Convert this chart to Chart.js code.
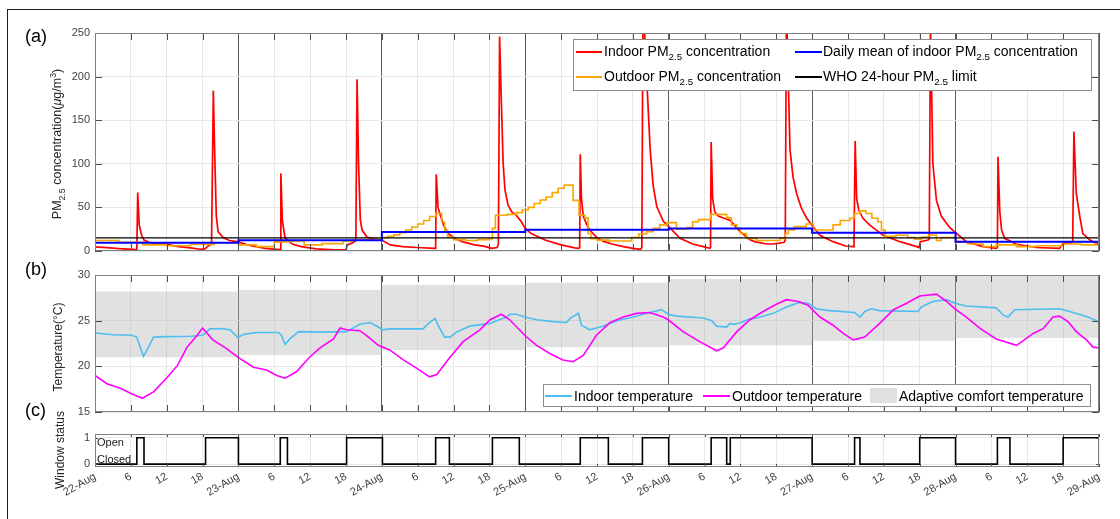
<!DOCTYPE html>
<html>
<head>
<meta charset="utf-8">
<script src="https://cdn.jsdelivr.net/npm/chart.js@4.4.1/dist/chart.umd.min.js"></script>
<style>
  html, body { margin: 0; padding: 0; background: #fff; }
  body {
    width: 1120px; height: 519px; position: relative; overflow: hidden;
    font-family: 'Liberation Sans', Arial, sans-serif; color: #000;
  }
  canvas { position: absolute; left: 0; top: 0; }
  .frame {
    position: absolute; left: 7px; top: 9px; width: 1200px; height: 600px;
    border-left: 1.5px solid #1a1a1a; border-top: 1.5px solid #1a1a1a;
  }
  .tag { position: absolute; font-size: 18px; line-height: 18px; }
  .ytitle {
    position: absolute; white-space: nowrap; color: #262626; line-height: 14px;
    transform: translate(-50%, -50%) rotate(-90deg);
  }
  .legend {
    position: absolute; background: #fff; border: 1px solid #8c8c8c;
    font-size: 14px; line-height: 16px; color: #000;
  }
  .item { position: absolute; white-space: nowrap; }
  .swatch { position: absolute; height: 0; border-top: 2px solid; }
  .box { position: absolute; background: #e0e0e0; }
  .state { position: absolute; font-size: 11px; line-height: 13px; color: #1a1a1a; }
  sub { font-size: 70%; vertical-align: -0.45em; line-height: 0; }
  sup { font-size: 70%; vertical-align: 0.55em; line-height: 0; }
</style>
</head>
<body>
<canvas id="pm" width="1120" height="519"></canvas>
<canvas id="temp" width="1120" height="519"></canvas>
<canvas id="win" width="1120" height="519"></canvas>

<div class="frame"></div>

<div class="tag" style="left:25px;top:27px">(a)</div>
<div class="tag" style="left:25px;top:260px">(b)</div>
<div class="tag" style="left:25px;top:401px">(c)</div>

<div class="ytitle" style="left:57px;top:144px;font-size:12.5px">PM<sub>2.5</sub> concentration(<i>μ</i>g/m<sup>3</sup>)</div>
<div class="ytitle" style="left:58px;top:347px;font-size:12px">Temperature(°C)</div>
<div class="ytitle" style="left:60px;top:450px;font-size:12px">Window status</div>

<div class="state" style="left:97px;top:436px">Open</div>
<div class="state" style="left:97px;top:453px">Closed</div>

<div class="legend" style="left:573px;top:39px;width:517px;height:50px">
  <span class="swatch" style="left:2px;top:11px;width:26px;border-color:#ff0000"></span>
  <div class="item" style="left:30px;top:3px">Indoor PM<sub>2.5</sub> concentration</div>
  <span class="swatch" style="left:2px;top:36px;width:26px;border-color:#f9a602"></span>
  <div class="item" style="left:30px;top:28px">Outdoor PM<sub>2.5</sub> concentration</div>
  <span class="swatch" style="left:221px;top:11px;width:27px;border-color:#0000ff"></span>
  <div class="item" style="left:249px;top:3px">Daily mean of indoor PM<sub>2.5</sub> concentration</div>
  <span class="swatch" style="left:221px;top:36px;width:27px;border-color:#000"></span>
  <div class="item" style="left:249px;top:28px">WHO 24-hour PM<sub>2.5</sub> limit</div>
</div>

<div class="legend" style="left:543px;top:384px;width:546px;height:21px">
  <span class="swatch" style="left:1px;top:10px;width:27px;border-color:#4dbeee"></span>
  <div class="item" style="left:30px;top:3px">Indoor temperature</div>
  <span class="swatch" style="left:159px;top:10px;width:27px;border-color:#ff00ff"></span>
  <div class="item" style="left:188px;top:3px">Outdoor temperature</div>
  <span class="box" style="left:326px;top:3px;width:27px;height:15px"></span>
  <div class="item" style="left:355px;top:3px">Adaptive comfort temperature</div>
</div>

<script>
Chart.defaults.font.family = "'Liberation Sans', Arial, sans-serif";
Chart.defaults.color = '#404040';

// x axis: hours since 22-Aug 00:00
const dayLabels = ['22-Aug', '23-Aug', '24-Aug', '25-Aug', '26-Aug', '27-Aug', '28-Aug', '29-Aug'];
const hourLabels = ['6', '12', '18'];

// panel (a) PM2.5, [hour, value]
const indoorPm = [
    [0, 4.8], [2, 3.8], [4, 2.8], [6.8, 1.6], [7.0, 2], [7.15, 67], [7.4, 30], [7.8, 18], [8.2, 12.5],
    [9, 10], [10.5, 8.5], [12, 7.5], [14, 5], [16, 3.5], [17.6, 2], [18.4, 2.5], [18.8, 5], [19.5, 8],
    [19.8, 184], [20.0, 120], [20.3, 40], [20.6, 22], [21.5, 15], [22.5, 12], [24, 10.5],
    [25.5, 7], [28.5, 3], [30.8, 1.5], [31.0, 2], [31.1, 89], [31.35, 35], [31.8, 15], [33, 8],
    [34.5, 5], [37, 2.5], [40, 1.2], [42, 1.5], [42.2, 7], [43, 9], [43.65, 12], [43.85, 197],
    [44.1, 100], [44.4, 35], [44.7, 24], [45.5, 16], [46.5, 14], [48, 12.5],
    [49.4, 7], [51.5, 5], [53.8, 4], [56.9, 3], [57.0, 3.5], [57.1, 88], [57.4, 50], [57.7, 43],
    [58.3, 30], [59.1, 20], [60.3, 14], [61.6, 10.5], [63.5, 7], [65, 5.5], [66.4, 3], [67.3, 4],
    [67.5, 8], [67.7, 246], [68.0, 170], [68.3, 100], [68.6, 70], [69.1, 53], [69.7, 45], [70.5, 41],
    [71.3, 34], [72, 26],
    [73, 20], [75.3, 12.6], [78, 7], [80.3, 3.5], [80.9, 3], [81.1, 4], [81.2, 111], [81.4, 60],
    [81.7, 40], [82.3, 30], [82.8, 24], [84, 15], [85.1, 11], [86.5, 8], [88.4, 5], [90, 3],
    [91.3, 2], [91.5, 4], [91.7, 290], [92.3, 200], [92.9, 116], [93.4, 75], [94, 51], [95.1, 34], [96, 28],
    [97.9, 14.5], [100, 8], [101.8, 5], [102.9, 3], [103.0, 4], [103.1, 125], [103.35, 60], [103.7, 45],
    [104.3, 40], [105.5, 37], [106.3, 35], [107.2, 28], [108, 22], [109.6, 13], [110.5, 10.5],
    [112.4, 8], [113.5, 8], [114.5, 9], [115.3, 10], [115.5, 12], [115.7, 280], [116.3, 116],
    [116.8, 85], [117.4, 66], [118.2, 49], [119.1, 37.5], [119.9, 30],
    [121.3, 18], [123.5, 10.7], [125.6, 5.7], [126.9, 5], [127.0, 6], [127.2, 126], [127.45, 60],
    [127.8, 47], [128.5, 37.5], [129.6, 30], [131.9, 18], [134.7, 10.7], [137.5, 5], [137.9, 4],
    [138.1, 10.7], [139.4, 12.6], [139.6, 14], [139.8, 260], [140.2, 100], [140.8, 58], [141.6, 40],
    [143, 27], [144, 21],
    [145.8, 10.7], [148.6, 5], [150.8, 3], [151.0, 4], [151.1, 108], [151.4, 45], [151.7, 24],
    [152.2, 14.5], [154.2, 7.7], [157.5, 4], [161.4, 3], [162, 8.8], [163.4, 9.5], [163.6, 11],
    [163.8, 137], [164.2, 66], [164.8, 39], [165.3, 20], [166.5, 12.6], [168, 7],
];

// hourly outdoor readings, held until the next entry
const outdoorPm = [
    [0, 12], [4, 10], [8, 7], [12, 6], [16, 7.5], [20, 9.5], [24, 7], [27, 5], [30, 10.5],
    [32.5, 11.5], [35, 7], [38, 8.5], [41.5, 11.5], [43, 12.5], [45, 13],
    [48, 15.5], [49, 17], [50, 18.5], [51, 21], [52, 24], [53, 27.5], [54, 31], [55, 35],
    [56, 39.5], [57, 43], [58, 33], [58.5, 24], [59, 16], [60, 13], [62, 12], [64, 13],
    [66, 14], [66.5, 26], [67, 41], [69, 42], [70.5, 44], [71.5, 47],
    [72.5, 50], [73.5, 54.5], [74.5, 58.5], [75.5, 62], [76.5, 67], [77.5, 72], [78.5, 75.5],
    [80, 58], [81, 41], [82, 38], [82.5, 20], [83, 14], [84, 12.5], [86, 11.5], [89.8, 15.5],
    [91, 19.5], [92.3, 22], [93.4, 26], [94.5, 30], [95.7, 32.5],
    [97.3, 25], [99, 27], [100, 33.5], [101, 36], [103, 42], [105.7, 38], [106.5, 30],
    [107.4, 26], [108, 20], [109, 14.5], [110.7, 12], [114.6, 14.5], [115.5, 20], [116, 24],
    [117, 28], [119, 31],
    [120.2, 24], [123.5, 30], [124.7, 35], [126.3, 37.5], [127, 43], [128, 46], [129, 43],
    [130, 37.5], [131, 33.5], [131.6, 24], [132.2, 17], [134, 18], [136, 15.5], [137.2, 13.5],
    [138.3, 16], [139.5, 18], [140.8, 12], [141.6, 15.5],
    [144, 10], [146, 8], [148.6, 5], [150.8, 7], [154.2, 5], [157.5, 6], [162, 8], [165, 7],
    [167.5, 10], [168, 10],
];

const dailyMeanPm = [9.6, 12.3, 21.8, 24.5, 25.7, 20.9, 10.5];
const whoLimit = 15;

// panel (b) temperature, [hour, degC]
const indoorTemp = [
    [0, 23.65], [3, 23.45], [6.1, 23.4], [7.0, 23.2], [7.6, 22.0], [8.1, 21.1], [8.7, 21.8],
    [9.8, 23.2], [12, 23.25], [16, 23.3], [18, 23.4], [18.4, 23.6], [19.2, 24.1], [21, 24.15],
    [22.6, 24.0], [23.9, 23.15], [24.9, 23.5], [27, 23.7], [30.7, 23.7], [31.2, 23.4],
    [31.8, 22.4], [32.6, 23.0], [34.1, 23.8], [38, 23.75], [42.1, 23.8], [44.3, 24.6],
    [46, 24.8], [47.4, 24.3], [48.1, 24.0], [49.3, 24.1], [54.9, 24.1], [55.8, 24.7],
    [56.9, 25.25], [57.4, 24.5], [58.5, 23.2], [59.4, 23.2], [60.5, 23.75], [62.7, 24.4],
    [66.1, 24.7], [67.2, 25.0], [68.9, 25.4], [69.4, 25.7], [70.5, 25.7], [71.9, 25.4],
    [73.9, 25.1], [76.7, 24.9], [78.9, 24.8], [79.5, 25.25], [80.9, 25.8], [81.4, 24.5],
    [82.8, 24.0], [85, 24.4], [87.3, 25.0], [90.1, 25.4], [92.8, 25.9], [94.8, 26.2],
    [95.9, 25.7], [97.3, 25.5], [101.8, 25.3], [103.2, 25.0], [104, 24.4], [105.7, 24.3],
    [106.2, 24.7], [106.8, 24.6], [107.9, 24.75], [109.6, 25.2], [110.7, 25.3], [113.5, 25.8],
    [115.7, 26.5], [117.9, 27.0], [119.3, 26.9], [120.7, 26.3], [122.9, 26.1], [127.1, 25.9],
    [128, 25.4], [128.8, 26.0], [129.9, 26.3], [131.3, 26.1], [137.7, 26.0], [138.3, 26.5],
    [140.2, 27.1], [142.5, 27.3], [143.9, 26.9], [145.8, 26.6], [150.8, 26.4], [152, 25.6],
    [152.8, 25.4], [153.9, 26.2], [161.4, 26.3], [163.1, 26.0], [165.9, 25.45], [168, 24.9],
];

const outdoorTemp = [
    [0, 19.0], [2, 18.1], [4.2, 17.6], [6.5, 16.9], [7.9, 16.5], [9.8, 17.2], [12.1, 18.8],
    [13.8, 20.1], [15.4, 22.1], [17.1, 23.4], [18, 24.2], [19.7, 22.9], [21.9, 22.0],
    [23.9, 21.0], [26.5, 19.9], [28.7, 19.6], [30.4, 19.0], [31.8, 18.7], [33.7, 19.4],
    [35.9, 21.0], [37.6, 22.0], [39.9, 23.0], [41, 24.2], [42.1, 24.0], [44.3, 23.9],
    [45.4, 23.4], [47.4, 22.3], [49.3, 21.8], [51.6, 20.7], [53.8, 19.8], [56, 18.85],
    [57.2, 19.1], [59.4, 21.0], [61.6, 22.7], [64.4, 24.0], [66.1, 25.1], [68, 25.7],
    [69.4, 25.1], [71.9, 23.4], [73.9, 22.3], [76.1, 21.4], [78.3, 20.7], [80, 20.5],
    [81.7, 21.2], [83.9, 23.4], [86.2, 24.8], [88.4, 25.4], [90.6, 25.8], [92.8, 25.9],
    [95.1, 25.4], [95.9, 25.1], [98.4, 23.8], [101.2, 22.7], [104, 21.7], [105.1, 22.0],
    [107.4, 23.8], [109.6, 25.1], [111.8, 26.0], [114, 26.8], [115.7, 27.3], [117.7, 27.1],
    [119.3, 26.7], [121.3, 25.4], [123.5, 24.5], [125.2, 23.6], [126.9, 22.9], [128.8, 23.2],
    [131.3, 24.7], [133.6, 26.2], [135.8, 26.9], [138, 27.7], [140.8, 27.9], [142.5, 27.1],
    [143.9, 26.3], [145.8, 25.4], [148.1, 24.15], [150.8, 23.0], [154.2, 22.3], [157, 23.6],
    [158.7, 24.15], [160.3, 25.4], [161.4, 25.5], [162.8, 24.9], [164.2, 23.8], [165.9, 22.9],
    [167, 22.1], [168, 22.0],
];

// adaptive comfort band, one value per day
const comfortUpper = [28.2, 28.35, 28.9, 29.15, 29.55, 30.1, 30.3];
const comfortLower = [21.0, 21.25, 21.8, 22.1, 22.3, 22.8, 23.1];

// panel (c) window: 1 = open, 0 = closed, held until next entry
const windowState = [
    [0, 0], [7, 1], [8.2, 0], [18.5, 1], [24, 0], [31, 1], [32.2, 0], [42.1, 1], [48.1, 0],
    [57, 1], [59.3, 0], [66.5, 1], [71, 0], [81.2, 1], [85.9, 0], [91.6, 1], [96, 0],
    [103.1, 1], [105.7, 0], [106.3, 1], [120, 0], [127.1, 1], [128, 0], [138, 1], [144, 0],
    [151, 1], [153.1, 0], [162, 1], [168, 1],
];

const tickHours = [];
const tickLabels = [];
dayLabels.forEach((d, i) => {
    tickHours.push(i * 24);
    tickLabels.push(d);
    if (i < dayLabels.length - 1) {
        hourLabels.forEach((h) => {
            tickHours.push(i * 24 + Number(h));
            tickLabels.push(h);
        });
    }
});

const gridColor = '#e8e8e8';
const dayLineColor = '#5c5c5c';

const toPoints = (pairs) => pairs.map(([x, y]) => ({ x, y }));
const dailySteps = (vals) =>
    vals.flatMap((v, d) => [{ x: d * 24, y: v }, { x: d * 24 + 24, y: v }]);

// matlab-ish box with inward tick marks
const boxPlugin = {
    id: 'box',
    afterDraw(chart, args, opts) {
        const { ctx, chartArea: a, scales } = chart;
        const len = opts.len || 6;
        ctx.save();
        ctx.lineWidth = 1;
        ctx.strokeStyle = '#4d4d4d';
        ctx.beginPath();
        scales.x.ticks.forEach((t) => {
            const px = Math.round(scales.x.getPixelForValue(t.value)) + 0.5;
            ctx.moveTo(px, a.top);
            ctx.lineTo(px, a.top + len);
            ctx.moveTo(px, a.bottom);
            ctx.lineTo(px, a.bottom - len);
        });
        scales.y.ticks.forEach((t) => {
            const py = Math.round(scales.y.getPixelForValue(t.value)) + 0.5;
            ctx.moveTo(a.left, py);
            ctx.lineTo(a.left + len, py);
            ctx.moveTo(a.right, py);
            ctx.lineTo(a.right - len, py);
        });
        ctx.stroke();
        ctx.strokeStyle = '#808080';
        ctx.strokeRect(a.left + 0.5, a.top + 0.5, a.width - 1, a.height - 1);
        ctx.restore();
    },
};

function timeAxis(withLabels, dayLines) {
    return {
        type: 'linear',
        min: 0,
        max: 168,
        afterBuildTicks: (s) => { s.ticks = tickHours.map((v) => ({ value: v })); },
        afterFit: (s) => { s.height = withLabels ? 52 : 0; },
        ticks: {
            display: withLabels,
            autoSkip: false,
            minRotation: 30,
            maxRotation: 30,
            padding: 3,
            font: { size: 11 },
            callback: (v) => tickLabels[tickHours.indexOf(v)],
        },
        grid: {
            drawTicks: false,
            color: (c) => (dayLines && c.tick && c.tick.value % 24 === 0 ? dayLineColor : gridColor),
        },
        border: { display: false },
    };
}

function valueAxis(min, max, step) {
    return {
        min,
        max,
        afterFit: (s) => { s.width = 95; },
        ticks: { stepSize: step, padding: 5, font: { size: 11 } },
        grid: { drawTicks: false, color: gridColor },
        border: { display: false },
    };
}

const common = {
    responsive: false,
    animation: false,
    plugins: { legend: { display: false }, tooltip: { enabled: false } },
    elements: { point: { radius: 0 }, line: { tension: 0 } },
};

new Chart(document.getElementById('pm'), {
    type: 'line',
    data: {
        datasets: [
            {
                data: [{ x: 0, y: whoLimit }, { x: 168, y: whoLimit }],
                borderColor: '#000',
                borderWidth: 1.3,
            },
            {
                data: dailySteps(dailyMeanPm),
                borderColor: '#0000ff',
                borderWidth: 2,
            },
            {
                data: toPoints(outdoorPm),
                borderColor: '#f9a602',
                borderWidth: 1.6,
                stepped: true,
            },
            {
                data: toPoints(indoorPm),
                borderColor: '#ff0000',
                borderWidth: 1.7,
            },
        ],
    },
    options: {
        ...common,
        layout: { padding: { top: 33, bottom: 268, left: 0, right: 21 } },
        scales: { x: timeAxis(false, true), y: valueAxis(0, 250, 50) },
        plugins: { ...common.plugins, box: { len: 7 } },
    },
    plugins: [boxPlugin],
});

new Chart(document.getElementById('temp'), {
    type: 'line',
    data: {
        datasets: [
            {
                data: toPoints(outdoorTemp),
                borderColor: '#ff00ff',
                borderWidth: 1.6,
            },
            {
                data: toPoints(indoorTemp),
                borderColor: '#4dbeee',
                borderWidth: 1.6,
            },
            {
                data: dailySteps(comfortUpper),
                borderWidth: 0,
                borderColor: 'rgba(0,0,0,0)',
                backgroundColor: 'rgba(175, 175, 175, 0.38)',
                fill: '+1',
            },
            {
                data: dailySteps(comfortLower),
                borderWidth: 0,
                borderColor: 'rgba(0,0,0,0)',
            },
        ],
    },
    options: {
        ...common,
        layout: { padding: { top: 275, bottom: 107, left: 0, right: 21 } },
        scales: { x: timeAxis(false, true), y: valueAxis(15, 30, 5) },
        plugins: { ...common.plugins, box: { len: 7 } },
    },
    plugins: [boxPlugin],
});

const winY = valueAxis(-0.11, 1.14, 1);
winY.afterBuildTicks = (s) => { s.ticks = [{ value: 0 }, { value: 1 }]; };

new Chart(document.getElementById('win'), {
    type: 'line',
    data: {
        datasets: [
            {
                data: toPoints(windowState),
                borderColor: '#000',
                borderWidth: 1.6,
                stepped: true,
            },
        ],
    },
    options: {
        ...common,
        layout: { padding: { top: 434, bottom: 0, left: 0, right: 21 } },
        scales: { x: timeAxis(true, false), y: winY },
        plugins: { ...common.plugins, box: { len: 3 } },
    },
    plugins: [boxPlugin],
});
</script>
</body>
</html>
